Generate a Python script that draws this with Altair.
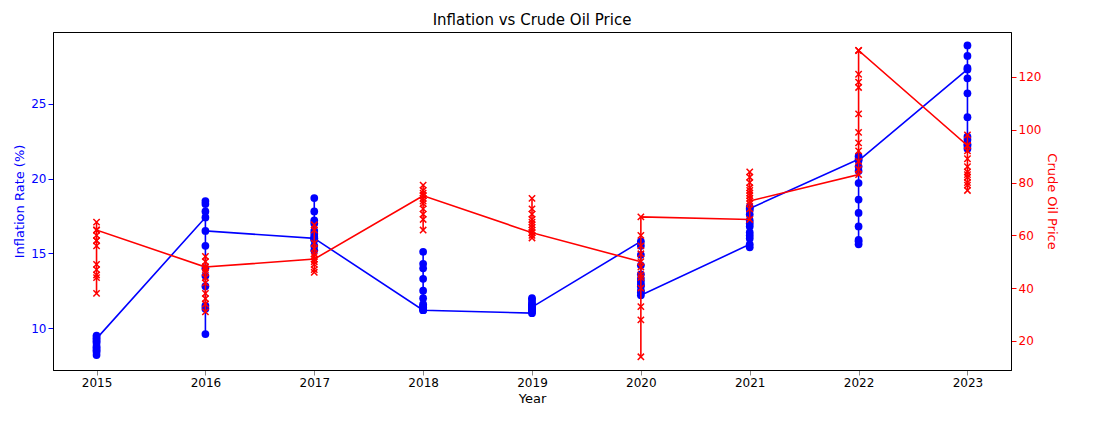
import altair as alt
import pandas as pd

years = list(range(2015, 2024))

# monthly inflation (%) per year, in plotting order
inflation = {
    2015: [9.5, 8.5, 8.2, 8.4, 8.7, 9.0, 9.2, 9.4, 9.1, 8.8, 8.6, 9.3],
    2016: [17.4, 18.5, 18.3, 17.8, 15.5, 14.0, 12.8, 11.3, 9.6, 11.5, 13.5, 16.5],
    2017: [16.0, 18.7, 17.8, 17.2, 16.3, 15.9, 15.5, 15.2, 16.1, 17.0, 16.5, 16.0],
    2018: [11.2, 11.5, 12.5, 13.3, 14.3, 15.1, 14.0, 12.0, 11.4, 11.6, 11.3, 11.2],
    2019: [11.0, 11.3, 11.6, 11.9, 12.0, 11.7, 11.5, 11.2, 11.1, 11.4, 11.2, 11.4],
    2020: [15.8, 15.5, 14.9, 14.2, 13.6, 13.1, 12.8, 12.5, 13.3, 12.9, 12.4, 12.2],
    2021: [15.6, 15.4, 16.0, 16.4, 16.8, 17.2, 17.6, 18.1, 17.9, 17.0, 16.2, 18.0],
    2022: [21.3, 21.5, 20.8, 19.7, 18.6, 17.7, 16.8, 15.9, 15.6, 15.8, 20.5, 21.2],
    2023: [27.3, 28.9, 28.2, 27.4, 26.7, 25.7, 24.1, 22.8, 22.3, 22.0, 22.6, 22.2],
}

# monthly crude oil price per year, in plotting order
oil = {
    2015: [62, 65, 60, 58, 56, 49, 47, 45, 38, 44, 58, 62],
    2016: [48, 52, 50, 46, 42, 38, 34, 31, 36, 44, 47, 48],
    2017: [51, 64, 62, 57, 55, 53, 49, 47, 46, 50, 52, 51],
    2018: [75, 79, 77, 74, 72, 68, 62, 66, 70, 73, 76, 75],
    2019: [61, 74, 70, 68, 66, 64, 62, 59, 60, 63, 65, 61],
    2020: [50, 60, 56, 45, 40, 33, 28, 14, 44, 48, 53, 67],
    2021: [66, 84, 82, 78, 76, 74, 72, 70, 75, 80, 77, 73],
    2022: [83, 130, 121, 116, 106, 99, 95, 92, 88, 85, 118, 130],
    2023: [94, 98, 92, 89, 86, 84, 82, 80, 77, 79, 83, 94],
}

rows = []
i = 0
for y in years:
    for a, b in zip(inflation[y], oil[y]):
        rows.append({"idx": i, "Year": y, "Inflation": a, "Oil": b})
        i += 1
df = pd.DataFrame(rows)

x = alt.X("Year:Q", title="Year", scale=alt.Scale(domain=[2014.6, 2023.4], nice=False),
          axis=alt.Axis(values=years, format="d", grid=False))

base = alt.Chart(df).encode(x=x, order="idx:Q")

left_y = alt.Y("Inflation:Q", title="Inflation Rate (%)",
               scale=alt.Scale(domain=[7.2, 29.8], nice=False, zero=False),
               axis=alt.Axis(values=[10, 15, 20, 25], grid=False, titleColor="blue",
                             labelColor="blue", tickColor="blue"))
right_y = alt.Y("Oil:Q", title="Crude Oil Price",
                scale=alt.Scale(domain=[9, 137], nice=False, zero=False),
                axis=alt.Axis(values=[20, 40, 60, 80, 100, 120], grid=False, orient="right",
                              titleColor="red", labelColor="red", tickColor="red"))

infl = base.mark_line(color="blue", strokeWidth=1.6).encode(y=left_y) + \
    base.mark_point(color="blue", filled=True, opacity=1, size=60).encode(y=left_y)
crude = base.mark_line(color="red", strokeWidth=1.6).encode(y=right_y) + \
    base.mark_point(color="red", shape="M-1,-1L1,1M-1,1L1,-1", filled=False, opacity=1,
                    size=40, strokeWidth=1.5).encode(y=right_y)

chart = (
    alt.layer(infl, crude)
    .resolve_scale(y="independent")
    .properties(
        width=1055, height=402,
        autosize=alt.AutoSizeParams(type="fit", contains="padding"),
        title=alt.Title("Inflation vs Crude Oil Price", fontSize=15, fontWeight="normal"),
    )
    .configure_axis(labelFontSize=12, titleFontSize=13, titleFontWeight="normal",
                    domainColor="black", labelFont="DejaVu Sans", titleFont="DejaVu Sans")
    .configure_title(font="DejaVu Sans")
    .configure_view(stroke="black")
)
chart.save("out.html", embed_options={"renderer": "svg", "actions": False})
